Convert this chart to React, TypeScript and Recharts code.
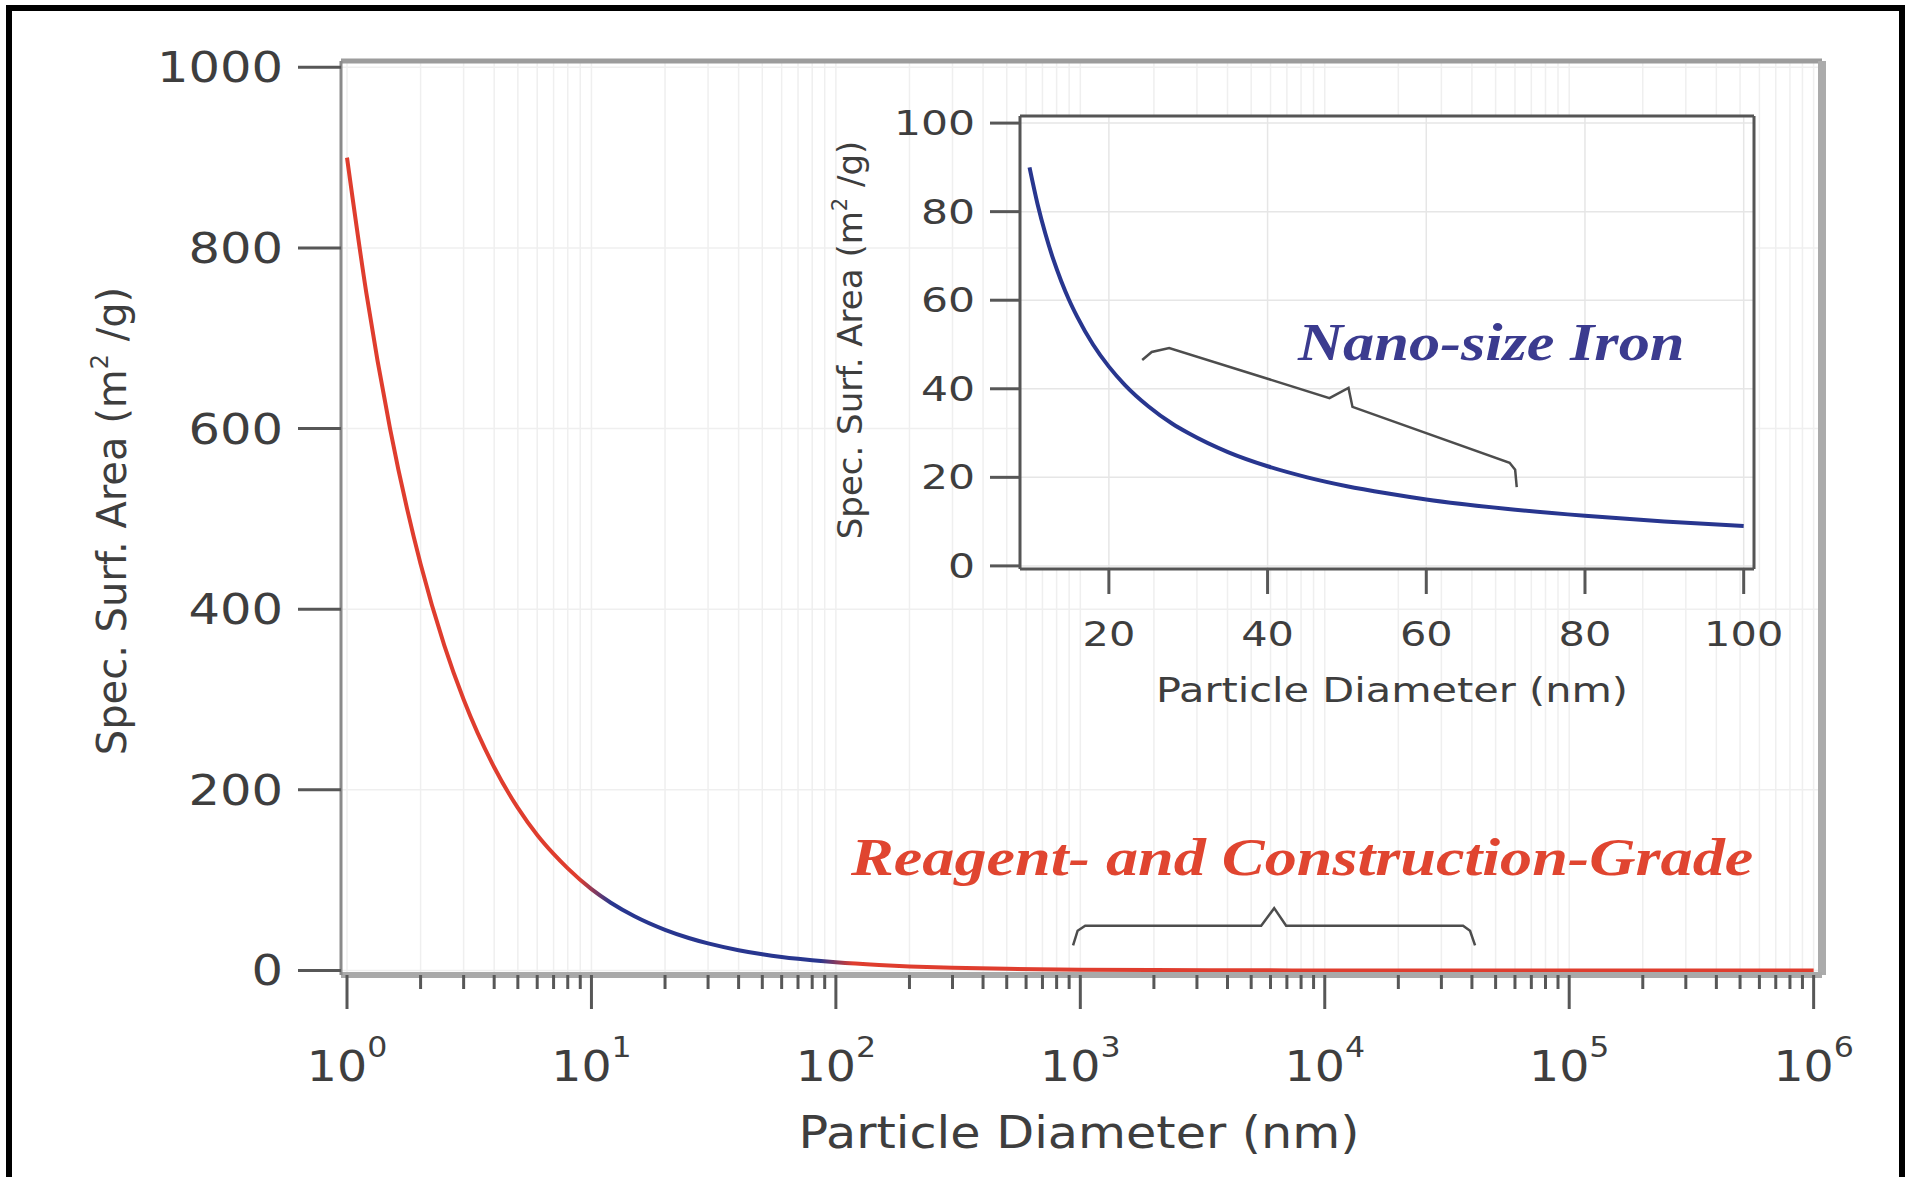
import React from "react";
import { LineChart, Line, XAxis, YAxis, CartesianGrid, ReferenceLine } from "recharts";

// main plot: specific surface area of iron vs particle diameter (log x)
const mainDiameterNm = [
  1, 1.2, 1.5, 2, 2.5, 3, 4, 5, 6, 7, 8, 10, 12, 15, 20, 25, 30, 40, 50, 60, 70, 80, 100,
  150, 200, 300, 500, 1000, 2000, 5000, 10000, 100000, 1000000,
];
const mainSurfaceArea = [
  900, 750, 600, 450, 360, 300, 225, 180, 150, 129, 113, 90, 75, 60, 45, 36, 30, 22.5, 18, 15, 12.9, 11.3, 9,
  6, 4.5, 3, 1.8, 0.9, 0.45, 0.18, 0.09, 0.009, 0.0009,
];

// inset: the nano range, linear x
const insetDiameterNm = [10, 11, 12, 13, 14, 15, 16, 18, 20, 22, 25, 28, 30, 35, 40, 45, 50, 55, 60, 70, 80, 90, 100];
const insetSurfaceArea = [90, 81.8, 75, 69.2, 64.3, 60, 56.3, 50, 45, 40.9, 36, 32.1, 30, 25.7, 22.5, 20, 18, 16.4, 15, 12.9, 11.3, 10, 9];

// braces, in data units of their own plot
const braceGradeX = [934, 975, 1047, 5495, 6210, 6950, 36800, 39300, 41200];
const braceGradeY = [27.7, 44, 49.5, 49.5, 69, 49.5, 49.5, 44, 27.7];
const braceNanoX = [24.2, 25.4, 27.6, 47.8, 50.2, 50.7, 70.5, 71.2, 71.4];
const braceNanoY = [46.5, 48.3, 49.2, 37.9, 40.2, 35.9, 23.3, 21.7, 17.8];

// ticks
const decadeTicks = [1, 10, 100, 1000, 10000, 100000, 1000000];
const decadeExponents = ["0", "1", "2", "3", "4", "5", "6"];
const minorMultipliers = [2, 3, 4, 5, 6, 7, 8, 9];
const mainYTicks = [0, 200, 400, 600, 800, 1000];
const insetXTicks = [20, 40, 60, 80, 100];
const insetYTicks = [0, 20, 40, 60, 80, 100];

const mainXTicks = [
  ...decadeTicks,
  ...decadeTicks.slice(0, -1).flatMap((d) => minorMultipliers.map((m) => m * d)),
].sort((a, b) => a - b);

const mainRows = mainDiameterNm.map((d, i) => ({ d, v: mainSurfaceArea[i] }));
const insetRows = insetDiameterNm.map((d, i) => ({ d, v: insetSurfaceArea[i] }));
const braceGradeRows = braceGradeX.map((d, i) => ({ d, v: braceGradeY[i] }));
const braceNanoRows = braceNanoX.map((d, i) => ({ d, v: braceNanoY[i] }));

const W = 1911;
const H = 1177;
const MAIN_X_DOMAIN = [0.945, 1082000];
const MAIN_Y_DOMAIN = [-5, 1007];
const INSET_X_DOMAIN = [8.8, 101.3];
const INSET_Y_DOMAIN = [-0.7, 101.6];

const SANS = "'DejaVu Sans', Verdana, sans-serif";
const SERIF = "'Liberation Serif', 'DejaVu Serif', serif";
const INK = "#3e3e3e";
const TICK = "#575757";
const RED = "#df3d2e";
const BLUE = "#28368f";

function Stretched({ x, y, sx = 1.2, size, anchor = "middle", fill = INK, family = SANS, weight, italic, rotate, children }: any) {
  const tf = `translate(${x},${y}) scale(${sx},1)` + (rotate ? ` rotate(${rotate})` : "");
  return (
    <text
      transform={tf}
      textAnchor={anchor}
      fontSize={size}
      fontFamily={family}
      fill={fill}
      fontWeight={weight}
      fontStyle={italic ? "italic" : undefined}
    >
      {children}
    </text>
  );
}

function MainXTick({ x, y, payload }: any) {
  const idx = decadeTicks.indexOf(payload.value);
  const major = idx >= 0;
  return (
    <g>
      <line x1={x} x2={x} y1={y} y2={y + (major ? 34 : 14)} stroke={TICK} strokeWidth={3} />
      {major && (
        <Stretched x={x} y={y + 106} sx={1.13} size={42}>
          10<tspan dy={-24} fontSize={28}>{decadeExponents[idx]}</tspan>
        </Stretched>
      )}
    </g>
  );
}

function MainYTick({ x, y, payload }: any) {
  return (
    <g>
      <line x1={x - 43} x2={x} y1={y} y2={y} stroke={TICK} strokeWidth={3} />
      <Stretched x={x - 58} y={y + 15} sx={1.18} size={42} anchor="end">
        {payload.value}
      </Stretched>
    </g>
  );
}

function InsetXTick({ x, y, payload }: any) {
  return (
    <g>
      <line x1={x} x2={x} y1={y} y2={y + 25} stroke={TICK} strokeWidth={3} />
      <Stretched x={x} y={y + 77} sx={1.22} size={34}>
        {payload.value}
      </Stretched>
    </g>
  );
}

function InsetYTick({ x, y, payload }: any) {
  return (
    <g>
      <line x1={x - 30} x2={x} y1={y} y2={y} stroke={TICK} strokeWidth={3} />
      <Stretched x={x - 45} y={y + 12} sx={1.25} size={34} anchor="end">
        {payload.value}
      </Stretched>
    </g>
  );
}

export default function App() {
  return (
    <div style={{ position: "absolute", left: 0, top: 0, width: W, height: H, background: "#fff", overflow: "hidden" }}>
      {/* black outer frame, open at the bottom */}
      <div
        style={{
          position: "absolute",
          left: 6,
          top: 5,
          width: 1899,
          height: 1260,
          border: "6px solid #000",
          boxSizing: "border-box",
        }}
      />

      <div style={{ position: "absolute", left: 0, top: 0 }}>
        <LineChart width={W} height={H} data={mainRows} margin={{ top: 61, right: 89, bottom: 22, left: 41 }}>
          <defs>
            <linearGradient id="sizeGrade" x1="0" y1="0" x2="1" y2="0">
              <stop offset="0" stopColor={RED} />
              <stop offset="0.158" stopColor={RED} />
              <stop offset="0.18" stopColor={BLUE} />
              <stop offset="0.322" stopColor={BLUE} />
              <stop offset="0.345" stopColor={RED} />
              <stop offset="1" stopColor={RED} />
            </linearGradient>
          </defs>
          <CartesianGrid stroke="#efefef" strokeWidth={1.5} />
          <XAxis
            dataKey="d"
            type="number"
            scale="log"
            domain={MAIN_X_DOMAIN}
            allowDataOverflow
            ticks={mainXTicks}
            interval={0}
            tickLine={false}
            tickSize={0}
            tickMargin={0}
            tick={<MainXTick />}
            axisLine={{ stroke: "#a9a9a9", strokeWidth: 6 }}
            height={180}
          />
          <YAxis
            type="number"
            domain={MAIN_Y_DOMAIN}
            allowDataOverflow
            ticks={mainYTicks}
            interval={0}
            tickLine={false}
            tickSize={0}
            tickMargin={0}
            tick={<MainYTick />}
            axisLine={{ stroke: "#8a8a8a", strokeWidth: 3 }}
            width={300}
          />
          <ReferenceLine y={MAIN_Y_DOMAIN[1]} stroke="#9c9c9c" strokeWidth={5} />
          <ReferenceLine x={MAIN_X_DOMAIN[1]} stroke="#ababab" strokeWidth={8} />
          <Line
            type="monotone"
            dataKey="v"
            stroke="url(#sizeGrade)"
            strokeWidth={4}
            dot={false}
            activeDot={false}
            isAnimationActive={false}
          />
          <Line
            data={braceGradeRows}
            type="linear"
            dataKey="v"
            stroke="#4d4d4d"
            strokeWidth={2.5}
            dot={false}
            activeDot={false}
            isAnimationActive={false}
          />
        </LineChart>
      </div>

      {/* inset */}
      <div style={{ position: "absolute", left: 830, top: 100, width: 975, height: 620 }}>
        <LineChart width={975} height={620} data={insetRows} margin={{ top: 16, right: 51, bottom: 21, left: 0 }}>
          <CartesianGrid stroke="#e6e6e6" strokeWidth={1.5} fill="#fff" />
          <XAxis
            dataKey="d"
            type="number"
            domain={INSET_X_DOMAIN}
            allowDataOverflow
            ticks={insetXTicks}
            interval={0}
            tickLine={false}
            tickSize={0}
            tickMargin={0}
            tick={<InsetXTick />}
            axisLine={{ stroke: "#555", strokeWidth: 3 }}
            height={130}
          />
          <YAxis
            type="number"
            domain={INSET_Y_DOMAIN}
            allowDataOverflow
            ticks={insetYTicks}
            interval={0}
            tickLine={false}
            tickSize={0}
            tickMargin={0}
            tick={<InsetYTick />}
            axisLine={{ stroke: "#555", strokeWidth: 3 }}
            width={190}
          />
          <ReferenceLine y={INSET_Y_DOMAIN[1]} stroke="#555" strokeWidth={3} />
          <ReferenceLine x={INSET_X_DOMAIN[1]} stroke="#555" strokeWidth={3} />
          <Line
            type="monotone"
            dataKey="v"
            stroke={BLUE}
            strokeWidth={4}
            dot={false}
            activeDot={false}
            isAnimationActive={false}
          />
          <Line
            data={braceNanoRows}
            type="linear"
            dataKey="v"
            stroke="#4d4d4d"
            strokeWidth={2.5}
            dot={false}
            activeDot={false}
            isAnimationActive={false}
          />
        </LineChart>
      </div>

      {/* titles and annotations */}
      <svg width={W} height={H} style={{ position: "absolute", left: 0, top: 0, pointerEvents: "none" }}>
        <Stretched x={1079} y={1148} sx={1.12} size={44}>
          Particle Diameter (nm)
        </Stretched>
        <Stretched x={126} y={521} sx={1} size={40} rotate={-90}>
          Spec. Surf. Area (m<tspan dy={-18} fontSize={24}>2</tspan>
          <tspan dy={18}> /g)</tspan>
        </Stretched>
        <Stretched x={1392} y={702} sx={1.22} size={34}>
          Particle Diameter (nm)
        </Stretched>
        <Stretched x={862} y={340} sx={1} size={34} rotate={-90}>
          Spec. Surf. Area (m<tspan dy={-15} fontSize={21}>2</tspan>
          <tspan dy={15}> /g)</tspan>
        </Stretched>
        <Stretched x={1298} y={360} sx={1.2} size={52} anchor="start" family={SERIF} weight="bold" italic fill="#3b3b8f">
          Nano-size Iron
        </Stretched>
        <Stretched x={851} y={875} sx={1.2} size={53.5} anchor="start" family={SERIF} weight="bold" italic fill="#e04530">
          Reagent- and Construction-Grade
        </Stretched>
      </svg>
    </div>
  );
}
